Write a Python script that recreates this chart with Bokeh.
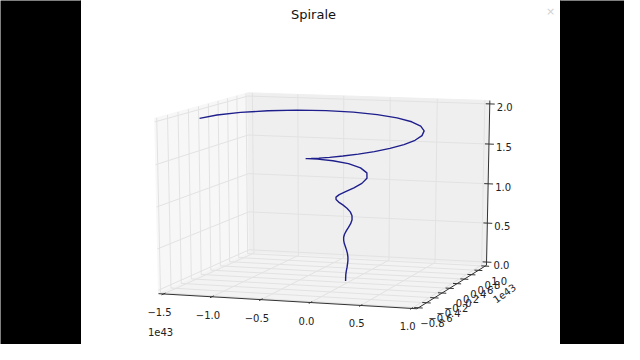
import numpy as np
from bokeh.plotting import figure
from bokeh.models import Range1d
from bokeh.embed import file_html
from bokeh.resources import INLINE
from bokeh.core.properties import value

TITLE = "Spirale"
OFFSET_TEXT = "1e43"

# spiral samples (x, y in units of 1e43)
spiral_x = [-1.258, -1.263, -1.181, -1.027, -0.818, -0.574, -0.315, -0.061, 0.173, 0.372,
            0.527, 0.632, 0.684, 0.687, 0.644, 0.564, 0.456, 0.329, 0.194, 0.062,
            -0.059, -0.163, -0.244, -0.298, -0.325,
            -0.305, -0.206, -0.071, 0.061, 0.157, 0.200, 0.189, 0.138, 0.067, -0.001, -0.051, -0.073,
            -0.068, -0.041, -0.005, 0.031, 0.057, 0.069, 0.066, 0.052, 0.033, 0.014, 0.001, -0.005,
            -0.004, 0.003, 0.013, 0.023, 0.030, 0.033, 0.032, 0.029, 0.023, 0.018, 0.015, 0.013]
spiral_y = [-0.535, -0.182, 0.142, 0.418, 0.633, 0.778, 0.851, 0.855, 0.796, 0.685,
            0.534, 0.358, 0.172, -0.012, -0.180, -0.324, -0.436, -0.511, -0.549, -0.551,
            -0.520, -0.462, -0.384, -0.293, -0.196,
            -0.013, 0.120, 0.179, 0.164, 0.093, -0.005, -0.100, -0.169, -0.200, -0.192, -0.155, -0.104,
            -0.055, -0.019, -0.003, -0.007, -0.026, -0.052, -0.078, -0.097, -0.105, -0.103, -0.093, -0.079,
            -0.066, -0.056, -0.052, -0.053, -0.058, -0.065, -0.072, -0.077, -0.080, -0.079, -0.076, -0.073]
spiral_z = [2.000, 1.979, 1.958, 1.938, 1.917, 1.896, 1.875, 1.854, 1.833, 1.812,
            1.792, 1.771, 1.750, 1.729, 1.708, 1.688, 1.667, 1.646, 1.625, 1.604,
            1.583, 1.562, 1.542, 1.521, 1.500,
            1.458, 1.417, 1.375, 1.333, 1.292, 1.250, 1.208, 1.167, 1.125, 1.083, 1.042, 1.000,
            0.958, 0.917, 0.875, 0.833, 0.792, 0.750, 0.708, 0.667, 0.625, 0.583, 0.542, 0.500,
            0.458, 0.417, 0.375, 0.333, 0.292, 0.250, 0.208, 0.167, 0.125, 0.083, 0.042, 0.000]

x_ticks = [-1.5, -1.0, -0.5, 0.0, 0.5, 1.0]
x_tick_labels = ["\u22121.5", "\u22121.0", "\u22120.5", "0.0", "0.5", "1.0"]
y_ticks = [-0.8, -0.6, -0.4, -0.2, 0.0, 0.2, 0.4, 0.6, 0.8, 1.0]
y_tick_labels = ["\u22120.8", "\u22120.6", "\u22120.4", "\u22120.2", "0.0", "0.2", "0.4", "0.6", "0.8", "1.0"]
z_ticks = [0.0, 0.5, 1.0, 1.5, 2.0]
z_tick_labels = ["0.0", "0.5", "1.0", "1.5", "2.0"]

XLIM = (-1.5, 1.0)
YLIM = (-0.8, 1.0)
ZLIM = (0.0, 2.0)

# ---- view (matplotlib-like mplot3d perspective) ----
ELEV, AZIM, DIST = 12.0, -72.0, 10.0
el, az = np.radians(ELEV), np.radians(AZIM)
nvec = np.array([np.cos(el) * np.cos(az), np.cos(el) * np.sin(az), np.sin(el)])
uvec = np.array([-np.sin(az), np.cos(az), 0.0])
vvec = np.cross(nvec, uvec)

# placement of the projected view on the canvas (pixels)
CX, KX, CY, KY = 327.3, 2523.0, 194.5, 1667.0
W, H = 624, 344


def vx(px):
    return (px - CX) / KX


def vy(py):
    return (CY - py) / KY


def proj(x, y, z):
    x, y, z = np.broadcast_arrays(np.asarray(x, float), np.asarray(y, float), np.asarray(z, float))
    X = (x - XLIM[0]) / (XLIM[1] - XLIM[0]) - 0.5
    Y = (y - YLIM[0]) / (YLIM[1] - YLIM[0]) - 0.5
    Z = (z - ZLIM[0]) / (ZLIM[1] - ZLIM[0]) - 0.5
    d = np.stack([X, Y, Z])
    a = np.tensordot(uvec, d, axes=1)
    b = np.tensordot(vvec, d, axes=1)
    c = np.tensordot(nvec, d, axes=1)
    w = DIST - c
    return a / w, b / w


def pad(lim):
    r = lim[1] - lim[0]
    return lim[0] - r / 48.0, lim[1] + r / 48.0


xb0, xb1 = pad(XLIM)
yb0, yb1 = pad(YLIM)
zb0, zb1 = pad(ZLIM)
dx12 = (XLIM[1] - XLIM[0]) / 12.0
dy12 = (YLIM[1] - YLIM[0]) / 12.0

p = figure(width=W, height=H, x_range=Range1d(vx(0), vx(W)), y_range=Range1d(vy(H), vy(0)),
           output_backend="svg", toolbar_location=None, min_border=0)
p.axis.visible = False
p.grid.visible = False
p.outline_line_color = None
p.background_fill_color = "white"
p.border_fill_color = "white"

# panes
panes = [
    ([xb0, xb0, xb0, xb0], [yb0, yb1, yb1, yb0], [zb0, zb0, zb1, zb1], "#f7f7f7"),  # x pane (left)
    ([xb0, xb1, xb1, xb0], [yb1, yb1, yb1, yb1], [zb0, zb0, zb1, zb1], "#efefef"),  # y pane (back)
    ([xb0, xb1, xb1, xb0], [yb0, yb0, yb1, yb1], [zb0, zb0, zb0, zb0], "#f3f3f3"),  # z pane (floor)
]
for px_, py_, pz_, col in panes:
    sx, sy = proj(px_, py_, pz_)
    p.patch(list(sx), list(sy), fill_color=col, line_color=col, line_width=1)

# grid lines
gxs, gys = [], []
for xt in x_ticks:
    sx, sy = proj([xt, xt, xt], [yb0, yb1, yb1], [zb0, zb0, zb1])
    gxs.append(list(sx)); gys.append(list(sy))
for yt in y_ticks:
    sx, sy = proj([xb1, xb0, xb0], [yt, yt, yt], [zb0, zb0, zb1])
    gxs.append(list(sx)); gys.append(list(sy))
for zt in z_ticks:
    sx, sy = proj([xb0, xb0, xb1], [yb0, yb1, yb1], [zt, zt, zt])
    gxs.append(list(sx)); gys.append(list(sy))
p.multi_line(gxs, gys, line_color="#e2e2e2", line_width=1)

# axis lines
axc = "#333333"
for ax_x, ax_y, ax_z in [([xb0, xb1], [yb0, yb0], [zb0, zb0]),
                         ([xb1, xb1], [yb0, yb1], [zb0, zb0]),
                         ([xb1, xb1], [yb1, yb1], [zb0, zb1])]:
    sx, sy = proj(ax_x, ax_y, ax_z)
    p.line(list(sx), list(sy), line_color=axc, line_width=1)

# ticks
txs, tys = [], []
for xt in x_ticks:
    sx, sy = proj([xt, xt], [yb0 - 0.25 * dy12, yb0 + 0.25 * dy12], [zb0, zb0])
    txs.append(list(sx)); tys.append(list(sy))
for yt in y_ticks:
    sx, sy = proj([xb1 - 0.2 * dx12, xb1 + 0.2 * dx12], [yt, yt], [zb0, zb0])
    txs.append(list(sx)); tys.append(list(sy))
for zt in z_ticks:
    sx, sy = proj([xb1 - 0.2 * dx12, xb1 + 0.25 * dx12], [yb1, yb1], [zt, zt])
    txs.append(list(sx)); tys.append(list(sy))
p.multi_line(txs, tys, line_color=axc, line_width=1)

FONT = value("DejaVu Sans")
TCOL = "#222222"


def shifted(sx, sy, dxp, dyp):
    return list(np.asarray(sx) + dxp / KX), list(np.asarray(sy) - dyp / KY)


# x tick labels
sx, sy = proj(x_ticks, yb0, zb0)
lx, ly = shifted(sx, sy, -4, 18)
p.text(lx, ly, text=x_tick_labels, text_font=FONT, text_font_size="10px", text_color=TCOL,
       text_align="center", text_baseline="middle")
ox, oy = shifted(sx[:1], sy[:1], -3, 38)
p.text(ox, oy, text=[OFFSET_TEXT], text_font=FONT, text_font_size="10px", text_color=TCOL,
       text_align="center", text_baseline="middle")

# y tick labels
sx, sy = proj(xb1, y_ticks, zb0)
lx, ly = shifted(sx, sy, 14, 15)
p.text(lx, ly, text=y_tick_labels, text_font=FONT, text_font_size="10px", text_color=TCOL,
       text_align="center", text_baseline="middle")
ox, oy = shifted(sx[-1:], sy[-1:], 19, 27)
p.text(ox, oy, text=[OFFSET_TEXT], text_font=FONT, text_font_size="10px", text_color=TCOL,
       text_align="center", text_baseline="middle", angle=0.62)

# z tick labels
sx, sy = proj(xb1, yb1, z_ticks)
lx, ly = shifted(sx, sy, 7, 3)
p.text(lx, ly, text=z_tick_labels, text_font=FONT, text_font_size="10px", text_color=TCOL,
       text_align="left", text_baseline="middle")

# spiral
sx, sy = proj(spiral_x, spiral_y, spiral_z)
p.line(list(sx), list(sy), line_color="#1e1e8c", line_width=1.4)

# title and window decorations
p.text([vx(313)], [vy(14)], text=[TITLE], text_font=FONT, text_font_size="13px", text_color="#111111",
       text_align="center", text_baseline="middle")
p.text([vx(550)], [vy(11)], text=["\u00d7"], text_font=FONT, text_font_size="11px", text_color="#d0d0d0",
       text_align="center", text_baseline="middle")

# black side bars of the screenshot
p.quad(left=[vx(-10), vx(560)], right=[vx(80), vx(650)], top=[vy(-10), vy(-10)], bottom=[vy(360), vy(360)],
       fill_color="black", line_color="black")

open("out.html", "w").write(file_html(p, INLINE))
